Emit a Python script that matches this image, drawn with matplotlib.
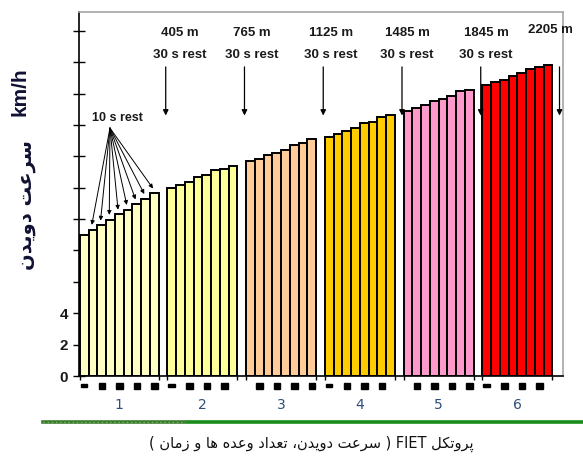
import re
import numpy as np
import matplotlib
matplotlib.use('Agg')
import matplotlib.pyplot as plt
import matplotlib.transforms as mtransforms
from matplotlib.patches import Rectangle
from matplotlib.lines import Line2D

# bar heights (km/h) per stage
stage1 = [9.0, 9.33, 9.6, 9.97, 10.3, 10.6, 10.95, 11.3, 11.65]
stage2 = [12.0, 12.2, 12.35, 12.7, 12.8, 13.1, 13.2, 13.4]
stage3 = [13.7, 13.8, 14.1, 14.2, 14.4, 14.75, 14.85, 15.1]
stage4 = [15.25, 15.4, 15.6, 15.8, 16.1, 16.2, 16.5, 16.65]
stage5 = [16.9, 17.1, 17.25, 17.55, 17.65, 17.85, 18.15, 18.25]
stage6 = [18.55, 18.75, 18.85, 19.15, 19.3, 19.55, 19.7, 19.85]
stages = [stage1, stage2, stage3, stage4, stage5, stage6]
stage_labels = ['1', '2', '3', '4', '5', '6']
distances = ['405 m', '765 m', '1125 m', '1485 m', '1845 m', '2205 m']
rest_text = ['30 s rest', '30 s rest', '30 s rest', '30 s rest', '30 s rest', '']
# black marks under the axis (bar index inside each stage)
rest_marks = [[0, 2, 4, 6, 8], [0, 2, 4, 6], [1, 3, 5, 7], [0, 2, 4, 6], [1, 3, 5, 7], [0, 2, 4, 6]]
first_is_dash = [True, True, False, True, False, True]

colors = ['#ffffc4', '#ffff99', '#ffcc99', '#ffcc00', '#ff99cc', '#ff0000']

ylabel_fa = 'سرعت دویدن'
caption_fa = 'پروتکل FIET ( سرعت دویدن، تعداد وعده ها و زمان )'

# contextual forms: isolated, final, initial, medial
AR_FORMS = {
    'ا': ('\uFE8D', '\uFE8E', None, None),
    'پ': ('\uFB56', '\uFB57', '\uFB58', '\uFB59'),
    'ت': ('\uFE95', '\uFE96', '\uFE97', '\uFE98'),
    'د': ('\uFEA9', '\uFEAA', None, None),
    'ر': ('\uFEAD', '\uFEAE', None, None),
    'ز': ('\uFEAF', '\uFEB0', None, None),
    'س': ('\uFEB1', '\uFEB2', '\uFEB3', '\uFEB4'),
    'ع': ('\uFEC9', '\uFECA', '\uFECB', '\uFECC'),
    'ک': ('\uFB8E', '\uFB8F', '\uFB90', '\uFB91'),
    'ل': ('\uFEDD', '\uFEDE', '\uFEDF', '\uFEE0'),
    'م': ('\uFEE1', '\uFEE2', '\uFEE3', '\uFEE4'),
    'ن': ('\uFEE5', '\uFEE6', '\uFEE7', '\uFEE8'),
    'ه': ('\uFEE9', '\uFEEA', '\uFEEB', '\uFEEC'),
    'و': ('\uFEED', '\uFEEE', None, None),
    'ی': ('\uFBFC', '\uFBFD', '\uFBFE', '\uFBFF'),
}


def shape_fa(text):
    # matplotlib has no arabic shaping, so pick joined forms and reverse by hand
    out = []
    for i, ch in enumerate(text):
        f = AR_FORMS.get(ch)
        if f is None:
            out.append(ch)
            continue
        prev = AR_FORMS.get(text[i - 1]) if i > 0 else None
        nxt = AR_FORMS.get(text[i + 1]) if i + 1 < len(text) else None
        j_prev = prev is not None and prev[2] is not None
        j_next = nxt is not None and f[2] is not None
        if j_prev and j_next:
            out.append(f[3])
        elif j_prev:
            out.append(f[1])
        elif j_next:
            out.append(f[2])
        else:
            out.append(f[0])
    vis = ''.join(out)[::-1]
    vis = re.sub(r'[A-Za-z0-9/]+', lambda m: m.group(0)[::-1], vis)
    return vis.translate(str.maketrans('()', ')('))


narrow = ['Liberation Sans Narrow', 'Liberation Sans', 'DejaVu Sans']

fig = plt.figure(figsize=(5.83, 4.59), dpi=100)
ax = fig.add_axes([79 / 583, 83 / 459, 484 / 583, 364 / 459])

# bars, one gap slot between stages
starts = []
pos = 0
for vals in stages:
    starts.append(pos)
    pos += len(vals) + 1
for s, vals, col in zip(starts, stages, colors):
    ax.bar(np.arange(len(vals)) + s, vals, width=1, align='edge',
           color=col, edgecolor='black', linewidth=1.4, zorder=2)

ax.set_xlim(-0.11, 55.2)
ax.set_ylim(0, 23.2)

ax.set_yticks(range(0, 23, 2))
ax.set_yticklabels(['0', '2', '4'] + [''] * 9, family=narrow, fontweight='bold',
                   fontsize=11, color='#1a1a1a')
ax.tick_params(axis='y', direction='inout', length=8, width=1, pad=4)

centers = [s + len(v) / 2 for s, v in zip(starts, stages)]
ax.set_xticks(centers)
ax.set_xticklabels(stage_labels, fontsize=10, color='#2e4d7b')
ax.tick_params(axis='x', length=0, pad=16)
edges = []
for s, v in zip(starts, stages):
    edges += [s, s + len(v)]
ax.set_xticks(edges, minor=True)
ax.tick_params(axis='x', which='minor', direction='out', length=3, width=1)

for side in ['top', 'right']:
    ax.spines[side].set_color('#a6a6a6')
    ax.spines[side].set_linewidth(1.2)
ax.spines['left'].set_linewidth(1.2)
ax.spines['bottom'].set_linewidth(1.2)

# black rest marks under the axis
trans = mtransforms.blended_transform_factory(ax.transData, ax.transAxes)
for s, marks, dash in zip(starts, rest_marks, first_is_dash):
    for k, b in enumerate(marks):
        if k == 0 and dash:
            r = Rectangle((s + b + 0.1, -0.030), 0.75, 0.008, transform=trans,
                          color='black', clip_on=False)
        else:
            r = Rectangle((s + b + 0.12, -0.036), 0.75, 0.016, transform=trans,
                          color='black', clip_on=False)
        ax.add_patch(r)

# 30 s rest arrows and distance labels
text_shift = [1.6, 0.8, 0.9, 0.6, 0.6, -1.0]
for s, vals, dist, rest, dx in zip(starts, stages, distances, rest_text, text_shift):
    xa = s + len(vals) + 0.8
    ax.annotate('', xy=(xa, 16.6), xytext=(xa, 19.7),
                arrowprops=dict(arrowstyle='-|>', color='black', lw=0.9,
                                mutation_scale=8, shrinkA=0, shrinkB=0))
    if rest:
        ax.text(xa + dx, 21.85, dist, ha='center', va='center', family=narrow,
                fontsize=9.5, fontweight='bold', color='#1a1a1a')
        ax.text(xa + dx, 20.45, rest, ha='center', va='center', family=narrow,
                fontsize=9.5, fontweight='bold', color='#1a1a1a')
    else:
        ax.text(xa + dx, 22.05, dist, ha='center', va='center', family=narrow,
                fontsize=9.5, fontweight='bold', color='#1a1a1a')

# 10 s rest fan of arrows in stage 1
ax.text(4.23, 16.46, '10 s rest', ha='center', va='center', family=narrow,
        fontsize=9, fontweight='bold', color='#1a1a1a')
for i in range(1, len(stage1)):
    ax.annotate('', xy=(i + 0.35, stage1[i] + 0.3), xytext=(3.43, 15.8),
                arrowprops=dict(arrowstyle='-|>', color='black', lw=0.7,
                                mutation_scale=6, shrinkA=0, shrinkB=0))

# y label
fig.text(20 / 583, 1 - 92 / 459, 'km/h', rotation=90, ha='center', va='center',
         family=['Liberation Sans', 'DejaVu Sans'], fontweight='bold', fontsize=15,
         color='#111133')
fig.text(27 / 583, 1 - 205 / 459, shape_fa(ylabel_fa), rotation=90, ha='center',
         va='center', family='DejaVu Sans', fontweight='bold', fontsize=14,
         color='#111133')

# green rule and caption
fig.add_artist(Line2D([43 / 583, 185 / 583], [0.0806, 0.0806], color='#3a7d2c', lw=2.6))
fig.add_artist(Line2D([43 / 583, 185 / 583], [0.0806, 0.0806], color='#7fb06a',
                      lw=1.0, linestyle=(0, (1, 2))))
fig.add_artist(Line2D([188 / 583, 1.0], [0.0806, 0.0806], color='#1a8c1a', lw=2.6))
fig.text(311 / 583, 1 - 444 / 459, shape_fa(caption_fa), ha='center', va='center',
         family='DejaVu Sans', fontsize=10.5, color='#111111')

fig.savefig('out.png', dpi=100)
